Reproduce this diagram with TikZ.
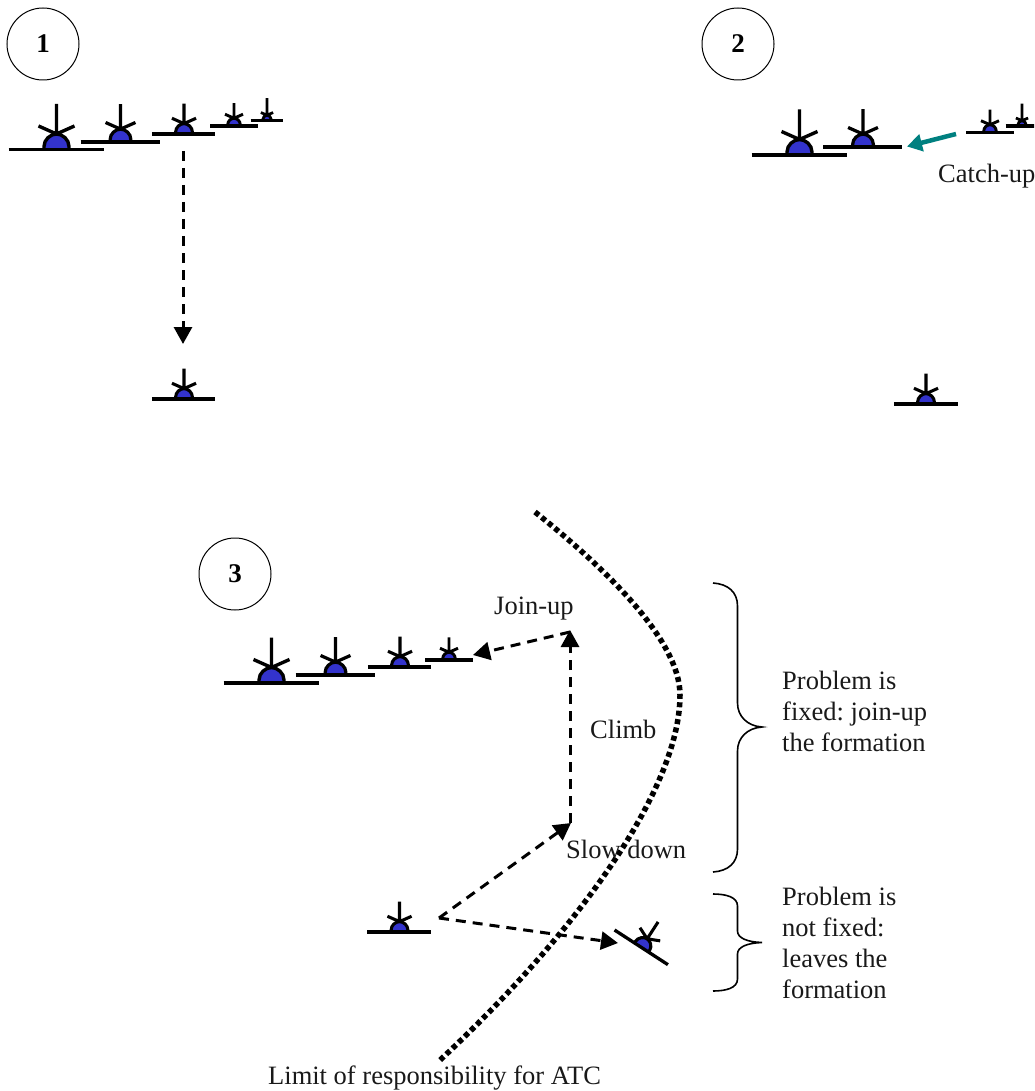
\documentclass[tikz,border=0pt]{standalone}
\usepackage{fontspec}
\setmainfont{Liberation Serif}
\usetikzlibrary{arrows.meta,calc}
\definecolor{planeblue}{RGB}{51,51,204}
\definecolor{catchteal}{RGB}{0,128,128}
\tikzset{
  x=1pt,y=-1pt,
  planeline/.style={line width=3.3pt,black},
  numcircle/.style={circle,draw=black,line width=1pt,minimum size=72pt,inner sep=0pt,font=\fontsize{27}{30}\selectfont\bfseries},
  lbl/.style={inner sep=0pt,font=\frenchspacing\fontsize{26.5}{31}\selectfont,text=black!90},
  para/.style={lbl,align=left,anchor=north west},
  dasharrow/.style={line width=3pt,dash pattern=on 10pt off 7pt,-{Triangle[length=17pt,width=18pt]}},
  limitcurve/.style={line width=5.5pt,dash pattern=on 5pt off 3.5pt},
  bracepath/.style={line width=1.6pt,black}
}
% \aircraft{name}{x}{y}{scale}{rotation}{spike height in unscaled units}
\newcommand{\aircraft}[6]{%
  \begin{scope}[shift={(#2,#3)},rotate=#5,scale=#4]
    \coordinate (#1) at (0,0);
    \fill[planeblue] (-12.5,0) -- (-12.5,-3) .. controls (-12.5,-10) and (-6,-15.5) .. (0,-15.5) .. controls (6,-15.5) and (12.5,-10) .. (12.5,-3) -- (12.5,0) -- cycle;
    \draw[line width=#4*1pt+2.4pt,black] (-12.5,0) -- (-12.5,-3) .. controls (-12.5,-10) and (-6,-15.5) .. (0,-15.5) .. controls (6,-15.5) and (12.5,-10) .. (12.5,-3) -- (12.5,0);
    \draw[line width=#4*1pt+2.4pt,black] (0,-15.5) -- (0,-#6) (0,-15.5) -- (-18,-23.5) (0,-15.5) -- (18,-23.5);
    \draw[planeline] (-48,0) -- (47,0);
  \end{scope}}
\begin{document}
\begin{tikzpicture}
\useasboundingbox (0,0) rectangle (1034,1091);
\clip (0,0) rectangle (1034,1091);
% numbered circles
\node[numcircle] (c1) at (43,44) {1};
\node[numcircle] (c2) at (738,44) {2};
\node[numcircle] (c3) at (235,574) {3};
% panel 1
\aircraft{pa}{56.5}{149.5}{1}{0}{45.5}
\aircraft{pb}{120.5}{142}{.83}{0}{45.5}
\aircraft{pc}{184}{134}{.67}{0}{45.5}
\aircraft{pd}{234}{126}{.5}{0}{45.5}
\aircraft{pe}{267}{120.5}{.34}{0}{66}
\aircraft{pl}{184}{399}{.67}{0}{45.5}
\coordinate (p1s) at (183,151);
\coordinate (p1e) at (183,344);
\draw[dasharrow] (p1s) -- (p1e);
% panel 2
\aircraft{qa}{799.5}{155}{1}{0}{45.5}
\aircraft{qb}{863}{147}{.83}{0}{45.5}
\aircraft{qd}{990}{132.5}{.5}{0}{45.5}
\aircraft{qe}{1022}{126}{.34}{0}{66}
\aircraft{ql}{926}{404}{.67}{0}{45.5}
\coordinate (q1s) at (956,134);
\coordinate (q1e) at (907,146.5);
\draw[line width=4.5pt,catchteal,-{Triangle[length=15pt,width=17pt]}] (q1s) -- (q1e);
\node[lbl,anchor=west] (catch) at (938,176) {Catch-up};
% panel 3
\aircraft{ra}{271.5}{683}{1}{0}{45.5}
\aircraft{rb}{335.5}{675}{.83}{0}{45.5}
\aircraft{rc}{400}{667}{.67}{0}{45.5}
\aircraft{rd}{449}{660}{.5}{0}{45.5}
\aircraft{rl}{399.5}{932}{.67}{0}{45.5}
\aircraft{rr}{641.5}{947.5}{.67}{-33}{45.5}
\coordinate (j1) at (570,632);
\coordinate (j2) at (473,655);
\coordinate (sd) at (571,823);
\coordinate (st) at (439,918);
\coordinate (lv) at (618,943);
\coordinate (cl) at (570,630);
\draw[dasharrow] (570,823) -- (cl);
\draw[dasharrow] (j1) -- (j2);
\draw[dasharrow] (st) -- (sd);
\draw[dasharrow] (st) -- (lv);
% limit of responsibility
\coordinate (lim1) at (535,512);
\coordinate (lim2) at (438,1062);
\draw[limitcurve] (lim1) .. controls (605,568) and (680,640) .. (680,695)
  .. controls (680,785) and (585,925) .. (lim2);
% labels
\node[lbl,anchor=west] (join) at (494,609) {Join-up};
\node[lbl,anchor=west] (climb) at (590,729) {Climb};
\node[lbl,anchor=west] (slow) at (566,849) {Slow down};
\node[lbl,anchor=west] (limit) at (268,1078) {Limit of responsibility for ATC};
\node[para] (fixed) at (782,671) {Problem is\\fixed: join-up\\the formation};
\node[para] (notfixed) at (782,887) {Problem is\\not fixed:\\leaves the\\formation};
% braces
\coordinate (b1a) at (713,583);
\coordinate (b1b) at (713,872);
\coordinate (b2a) at (713,894);
\coordinate (b2b) at (713,991);
\draw[bracepath] (b1a) .. controls (728,584) and (737.5,592) .. (737.5,606) -- (737.5,703)
  .. controls (737.5,716) and (747,726) .. (762,727)
  .. controls (747,728) and (737.5,738) .. (737.5,751) -- (737.5,849)
  .. controls (737.5,863) and (728,871) .. (b1b);
\draw[bracepath] (b2a) .. controls (726,894) and (737.5,897) .. (737.5,906) -- (737.5,931)
  .. controls (737.5,938) and (747,942) .. (762,942.5)
  .. controls (747,943) and (737.5,947) .. (737.5,954) -- (737.5,979)
  .. controls (737.5,988) and (726,991) .. (b2b);
\end{tikzpicture}
\end{document}
